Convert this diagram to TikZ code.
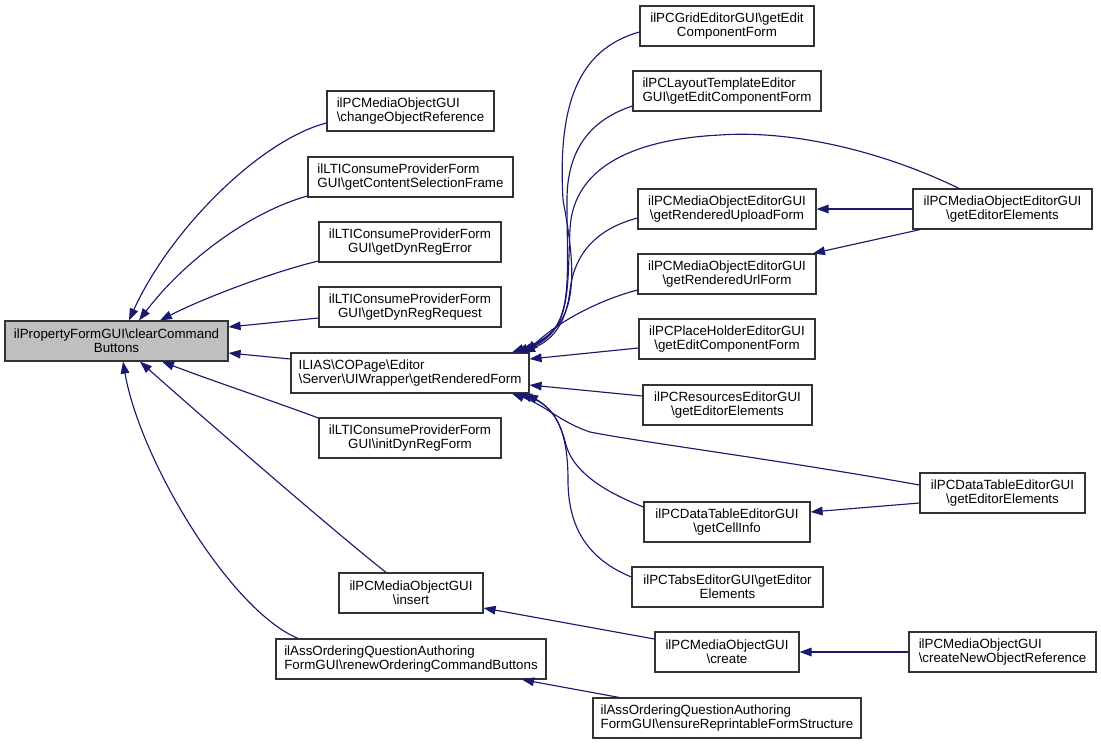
\documentclass[tikz,border=0pt]{standalone}
\usepackage{fontspec}
\setmainfont{Liberation Sans}
\usetikzlibrary{arrows.meta}
\definecolor{edgec}{HTML}{191970}
\definecolor{mainfill}{HTML}{BFBFBF}
\definecolor{boxline}{HTML}{333333}
\newcommand\mybsl{\textbackslash}
\newcommand\mybox[7][]{\node[box,#1,minimum width={(#5-#3)*0.75pt},minimum height={(#6-#4)*0.75pt}] (#2) at ({(#3+#5)/2},{(#4+#6)/2}) {#7};}
\begin{document}
\begin{tikzpicture}[x=0.75pt,y=-0.75pt,
  box/.style={draw=boxline,line width=0.9pt,fill=white,inner sep=0pt,align=center,font=\fontsize{10pt}{10.5pt}\selectfont},
  lbox/.style={align=left},
  edge/.style={draw=edgec,line width=0.85pt,-{Triangle[length=9pt,width=6.5pt]}}]
\useasboundingbox (0,0) rectangle (1101,744);
% nodes
\mybox[fill=mainfill]{main}{5}{321}{228}{361}{ilPropertyFormGUI\mybsl clearCommand\\Buttons}
\mybox[lbox]{cor}{327}{91}{494}{131}{ilPCMediaObjectGUI\\\mybsl changeObjectReference}
\mybox[lbox]{gcsf}{308}{157}{513}{197}{ilLTIConsumeProviderForm\\GUI\mybsl getContentSelectionFrame}
\mybox{gdre}{319}{222}{501}{262}{ilLTIConsumeProviderForm\\GUI\mybsl getDynRegError}
\mybox{gdrr}{319}{287}{501}{327}{ilLTIConsumeProviderForm\\GUI\mybsl getDynRegRequest}
\mybox[lbox]{grf}{291}{353}{529}{393}{ILIAS\mybsl COPage\mybsl Editor\\\mybsl Server\mybsl UIWrapper\mybsl getRenderedForm}
\mybox{idrf}{319}{418}{501}{458}{ilLTIConsumeProviderForm\\GUI\mybsl initDynRegForm}
\mybox{ins}{339}{573}{483}{613}{ilPCMediaObjectGUI\\\mybsl insert}
\mybox[lbox]{ren}{276}{639}{546}{679}{ilAssOrderingQuestionAuthoring\\FormGUI\mybsl renewOrderingCommandButtons}
\mybox{grid}{640}{6}{814}{46}{ilPCGridEditorGUI\mybsl getEdit\\ComponentForm}
\mybox[lbox]{lay}{633}{71}{821}{111}{ilPCLayoutTemplateEditor\\GUI\mybsl getEditComponentForm}
\mybox{upl}{638}{189}{816}{229}{ilPCMediaObjectEditorGUI\\\mybsl getRenderedUploadForm}
\mybox{moee}{913}{189}{1092}{229}{ilPCMediaObjectEditorGUI\\\mybsl getEditorElements}
\mybox{url}{638}{254}{816}{294}{ilPCMediaObjectEditorGUI\\\mybsl getRenderedUrlForm}
\mybox{ph}{639}{319}{815}{359}{ilPCPlaceHolderEditorGUI\\\mybsl getEditComponentForm}
\mybox{res}{643}{385}{812}{425}{ilPCResourcesEditorGUI\\\mybsl getEditorElements}
\mybox{dtee}{920}{473}{1085}{513}{ilPCDataTableEditorGUI\\\mybsl getEditorElements}
\mybox{cell}{644}{502}{810}{542}{ilPCDataTableEditorGUI\\\mybsl getCellInfo}
\mybox{tabs}{632}{567}{823}{607}{ilPCTabsEditorGUI\mybsl getEditor\\Elements}
\mybox{cre}{655}{632}{799}{672}{ilPCMediaObjectGUI\\\mybsl create}
\mybox[lbox]{cnor}{909}{632}{1096}{672}{ilPCMediaObjectGUI\\\mybsl createNewObjectReference}
\mybox[lbox]{ens}{593}{698}{861}{738}{ilAssOrderingQuestionAuthoring\\FormGUI\mybsl ensureReprintableFormStructure}
% edges into main
\draw[edge] (cor.west |- 0,123) .. controls (260,140) and (170,230) .. (129,0 |- main.north);
\draw[edge] (gcsf.west |- 0,196) .. controls (250,212) and (185,260) .. (139,0 |- main.north);
\draw[edge] (gdre.west |- 0,261) .. controls (280,270) and (210,295) .. (160,0 |- main.north);
\draw[edge] (gdrr.west |- 0,318) -- (main.east |- 0,327);
\draw[edge] (grf.west |- 0,359) -- (main.east |- 0,353);
\draw[edge] (idrf.west |- 0,418) .. controls (270,400) and (210,380) .. (162,0 |- main.south);
\draw[edge] (386,0 |- ins.north) .. controls (330,528) and (200,415) .. (140,0 |- main.south);
\draw[edge] (298,0 |- ren.north) .. controls (230,610) and (140,460) .. (123,0 |- main.south);
% edges into getRenderedForm
\draw[edge] (grid.west |- 0,32) .. controls (575,50) and (558,110) .. (563,200) .. controls (580,290) and (575,330) .. (512,0 |- grf.north);
\draw[edge] (lay.west |- 0,106) .. controls (590,120) and (567,150) .. (567,200) .. controls (567,290) and (575,330) .. (516,0 |- grf.north);
\draw[edge] (959,0 |- moee.north) .. controls (880,150) and (790,130) .. (720,135) .. controls (620,140) and (572,175) .. (570,230) .. controls (567,290) and (572,330) .. (520,0 |- grf.north);
\draw[edge] (upl.west |- 0,218) .. controls (600,228) and (575,250) .. (570,290) .. controls (566,325) and (552,340) .. (523,0 |- grf.north);
\draw[edge] (url.west |- 0,290) .. controls (600,300) and (560,320) .. (526,0 |- grf.north);
\draw[edge] (ph.west |- 0,348) -- (grf.east |- 0,359);
\draw[edge] (res.west |- 0,396) -- (grf.east |- 0,385);
\draw[edge] (dtee.west |- 0,485) .. controls (780,460) and (640,442) .. (590,432) .. controls (560,422) and (545,405) .. (512,0 |- grf.south);
\draw[edge] (cell.west |- 0,507) .. controls (600,490) and (573,470) .. (566,445) .. controls (560,420) and (550,405) .. (520,0 |- grf.south);
\draw[edge] (tabs.west |- 0,577) .. controls (590,560) and (568,530) .. (568,480) .. controls (568,430) and (555,410) .. (526,0 |- grf.south);
% other edges
\draw[edge] (moee.west |- 0,209) -- (upl.east |- 0,209);
\draw[edge] (920,0 |- moee.south) -- (813,0 |- url.north);
\draw[edge] (dtee.west |- 0,503) -- (cell.east |- 0,512);
\draw[edge] (cre.west |- 0,639) -- (ins.east |- 0,608);
\draw[edge] (cnor.west |- 0,652) -- (cre.east |- 0,652);
\draw[edge] (619,0 |- ens.north) -- (522,0 |- ren.south);
\end{tikzpicture}
\end{document}
